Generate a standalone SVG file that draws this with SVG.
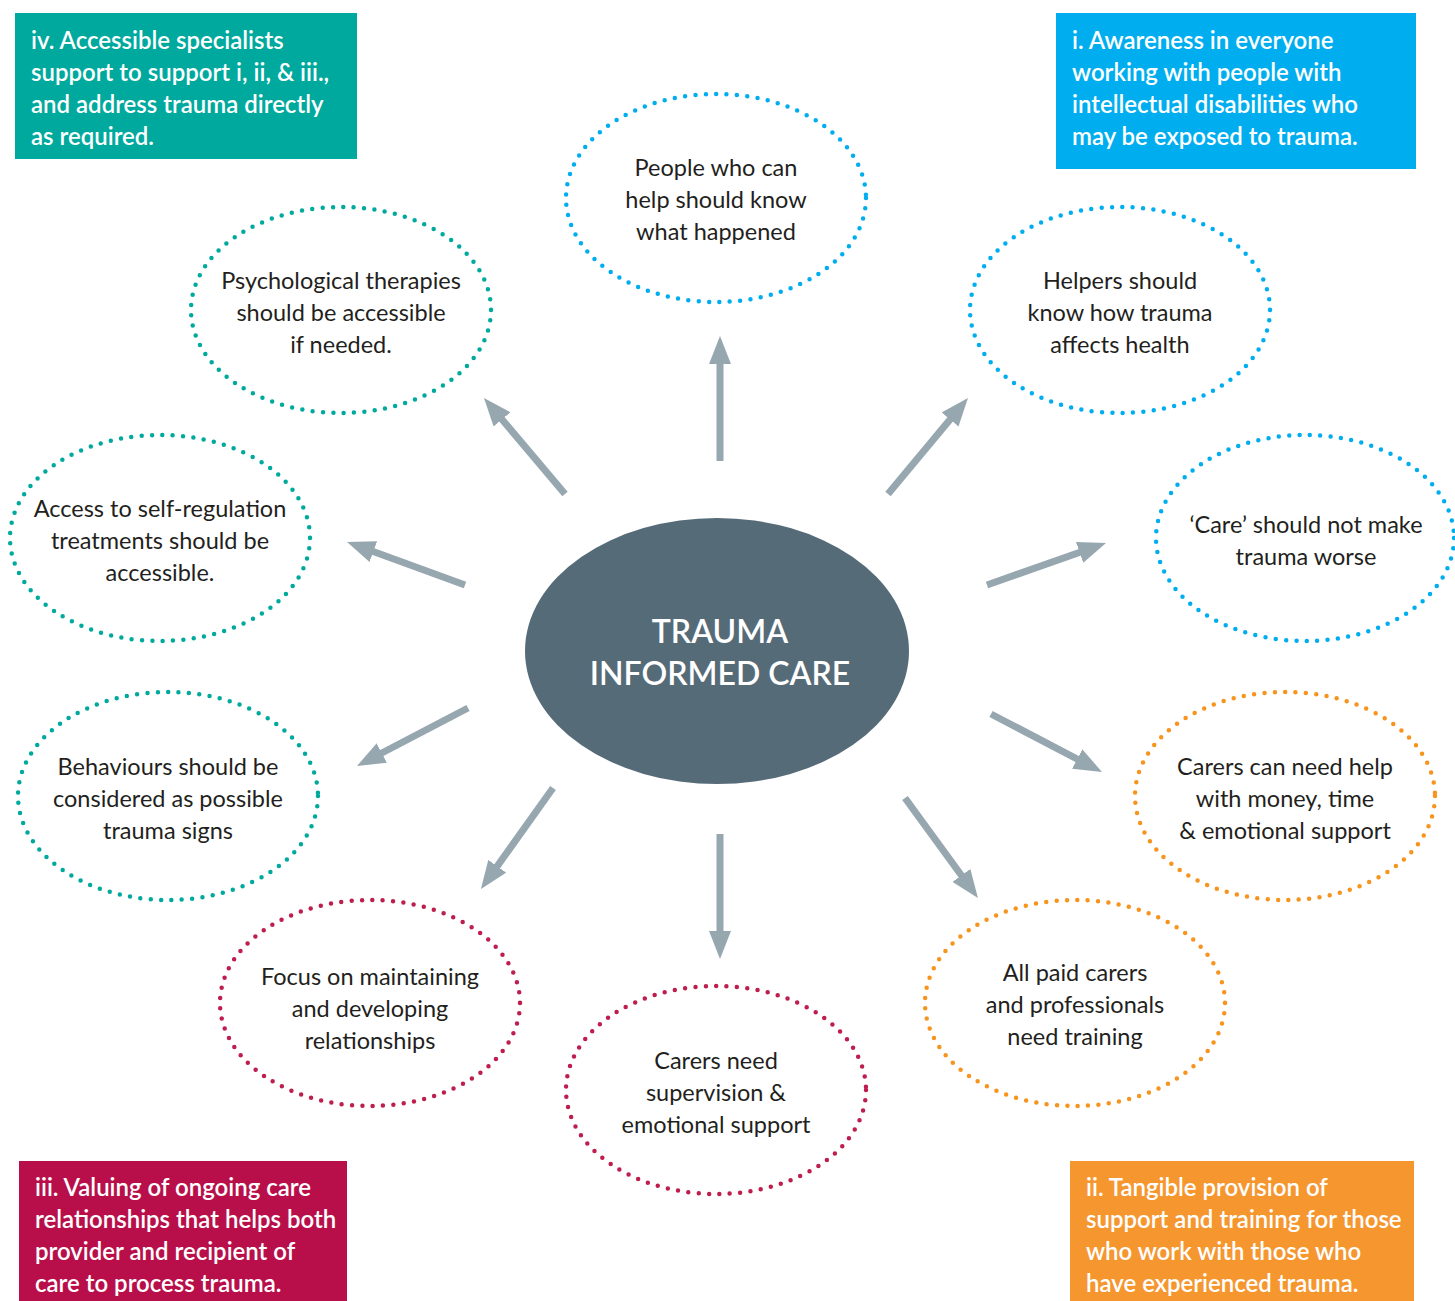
<svg xmlns="http://www.w3.org/2000/svg" width="1455" height="1301" viewBox="0 0 1455 1301">
<defs>
<style>
.box text{font-family:Lato,"Noto Sans","Liberation Sans",sans-serif;font-size:24px;font-weight:600;fill:#ffffff}
.node text{font-family:Lato,"Noto Sans","Liberation Sans",sans-serif;font-size:23.5px;fill:#231f20;text-anchor:middle}
.dot{fill:none;stroke-width:4.5;stroke-linecap:round;stroke-dasharray:0 10.4}
.blue{stroke:#00aeef}.teal{stroke:#00a99d}.red{stroke:#be1e4d}.orange{stroke:#f7941d}
.conn line{stroke:#97a7b0;stroke-width:7;marker-end:url(#ah)}
</style>
<marker id="ah" markerUnits="userSpaceOnUse" markerWidth="30" markerHeight="22" refX="14" refY="11" orient="auto">
<path d="M0,0 L28,11 L0,22 z" fill="#97a7b0"/>
</marker>
</defs>
<rect width="1455" height="1301" fill="#ffffff"/>

<g id="box-iv" class="box">
<rect x="15" y="13" width="342" height="146" fill="#00a99d"/>
<text x="31" y="49">iv. Accessible specialists</text>
<text x="31" y="81">support to support i, ii, &amp; iii.,</text>
<text x="31" y="113">and address trauma directly</text>
<text x="31" y="145">as required.</text>
</g>
<g id="box-i" class="box">
<rect x="1056" y="13" width="360" height="156" fill="#00aeef"/>
<text x="1072" y="49">i. Awareness in everyone</text>
<text x="1072" y="81">working with people with</text>
<text x="1072" y="113">intellectual disabilities who</text>
<text x="1072" y="145">may be exposed to trauma.</text>
</g>
<g id="box-iii" class="box">
<rect x="19" y="1161" width="328" height="140" fill="#b80f4a"/>
<text x="35" y="1196">iii. Valuing of ongoing care</text>
<text x="35" y="1228">relationships that helps both</text>
<text x="35" y="1260">provider and recipient of</text>
<text x="35" y="1292">care to process trauma.</text>
</g>
<g id="box-ii" class="box">
<rect x="1070" y="1161" width="344" height="140" fill="#f6962f"/>
<text x="1086" y="1196">ii. Tangible provision of</text>
<text x="1086" y="1228">support and training for those</text>
<text x="1086" y="1260">who work with those who</text>
<text x="1086" y="1292">have experienced trauma.</text>
</g>

<g id="center">
<ellipse cx="717" cy="651" rx="192" ry="133" fill="#566b78"/>
<text x="720" y="643" text-anchor="middle" font-family="Lato,'Noto Sans','Liberation Sans',sans-serif" font-size="32" font-weight="600" fill="#ffffff">TRAUMA</text>
<text x="720" y="685" text-anchor="middle" font-family="Lato,'Noto Sans','Liberation Sans',sans-serif" font-size="32" font-weight="600" fill="#ffffff">INFORMED CARE</text>
</g>

<g id="connectors" class="conn">
<line x1="720" y1="461" x2="720" y2="350"/>
<line x1="888" y1="494" x2="959" y2="408.8"/>
<line x1="987" y1="585" x2="1092.8" y2="547.7"/>
<line x1="991" y1="714" x2="1089.6" y2="765.5"/>
<line x1="905" y1="798" x2="969.7" y2="886.7"/>
<line x1="720" y1="834" x2="720" y2="945"/>
<line x1="553" y1="788" x2="489.1" y2="877.6"/>
<line x1="468" y1="708" x2="369.4" y2="759.5"/>
<line x1="465" y1="585" x2="360.2" y2="546.8"/>
<line x1="565" y1="494" x2="493" y2="408.7"/>
</g>

<g id="n-people" class="node">
<ellipse class="dot blue" cx="716" cy="198" rx="150" ry="104"/>
<text x="716" y="176">People who can</text>
<text x="716" y="208">help should know</text>
<text x="716" y="240">what happened</text>
</g>
<g id="n-helpers" class="node">
<ellipse class="dot blue" cx="1120" cy="310" rx="150" ry="103"/>
<text x="1120" y="289">Helpers should</text>
<text x="1120" y="321">know how trauma</text>
<text x="1120" y="353">affects health</text>
</g>
<g id="n-care" class="node">
<ellipse class="dot blue" cx="1305" cy="538" rx="149" ry="103"/>
<text x="1306" y="533">‘Care’ should not make</text>
<text x="1306" y="565">trauma worse</text>
</g>
<g id="n-carers-help" class="node">
<ellipse class="dot orange" cx="1285" cy="796" rx="150" ry="104"/>
<text x="1285" y="775">Carers can need help</text>
<text x="1285" y="807">with money, time</text>
<text x="1285" y="839">&amp; emotional support</text>
</g>
<g id="n-paid" class="node">
<ellipse class="dot orange" cx="1075" cy="1003" rx="150" ry="103"/>
<text x="1075" y="981">All paid carers</text>
<text x="1075" y="1013">and professionals</text>
<text x="1075" y="1045">need training</text>
</g>
<g id="n-supervision" class="node">
<ellipse class="dot red" cx="716" cy="1090" rx="150" ry="104"/>
<text x="716" y="1069">Carers need</text>
<text x="716" y="1101">supervision &amp;</text>
<text x="716" y="1133">emotional support</text>
</g>
<g id="n-focus" class="node">
<ellipse class="dot red" cx="370" cy="1003" rx="150" ry="103"/>
<text x="370" y="985">Focus on maintaining</text>
<text x="370" y="1017">and developing</text>
<text x="370" y="1049">relationships</text>
</g>
<g id="n-behaviours" class="node">
<ellipse class="dot teal" cx="168" cy="796" rx="150" ry="104"/>
<text x="168" y="775">Behaviours should be</text>
<text x="168" y="807">considered as possible</text>
<text x="168" y="839">trauma signs</text>
</g>
<g id="n-access" class="node">
<ellipse class="dot teal" cx="160" cy="538" rx="150" ry="103"/>
<text x="160" y="517">Access to self-regulation</text>
<text x="160" y="549">treatments should be</text>
<text x="160" y="581">accessible.</text>
</g>
<g id="n-psych" class="node">
<ellipse class="dot teal" cx="341" cy="310" rx="150" ry="103"/>
<text x="341" y="289">Psychological therapies</text>
<text x="341" y="321">should be accessible</text>
<text x="341" y="353">if needed.</text>
</g>
</svg>
